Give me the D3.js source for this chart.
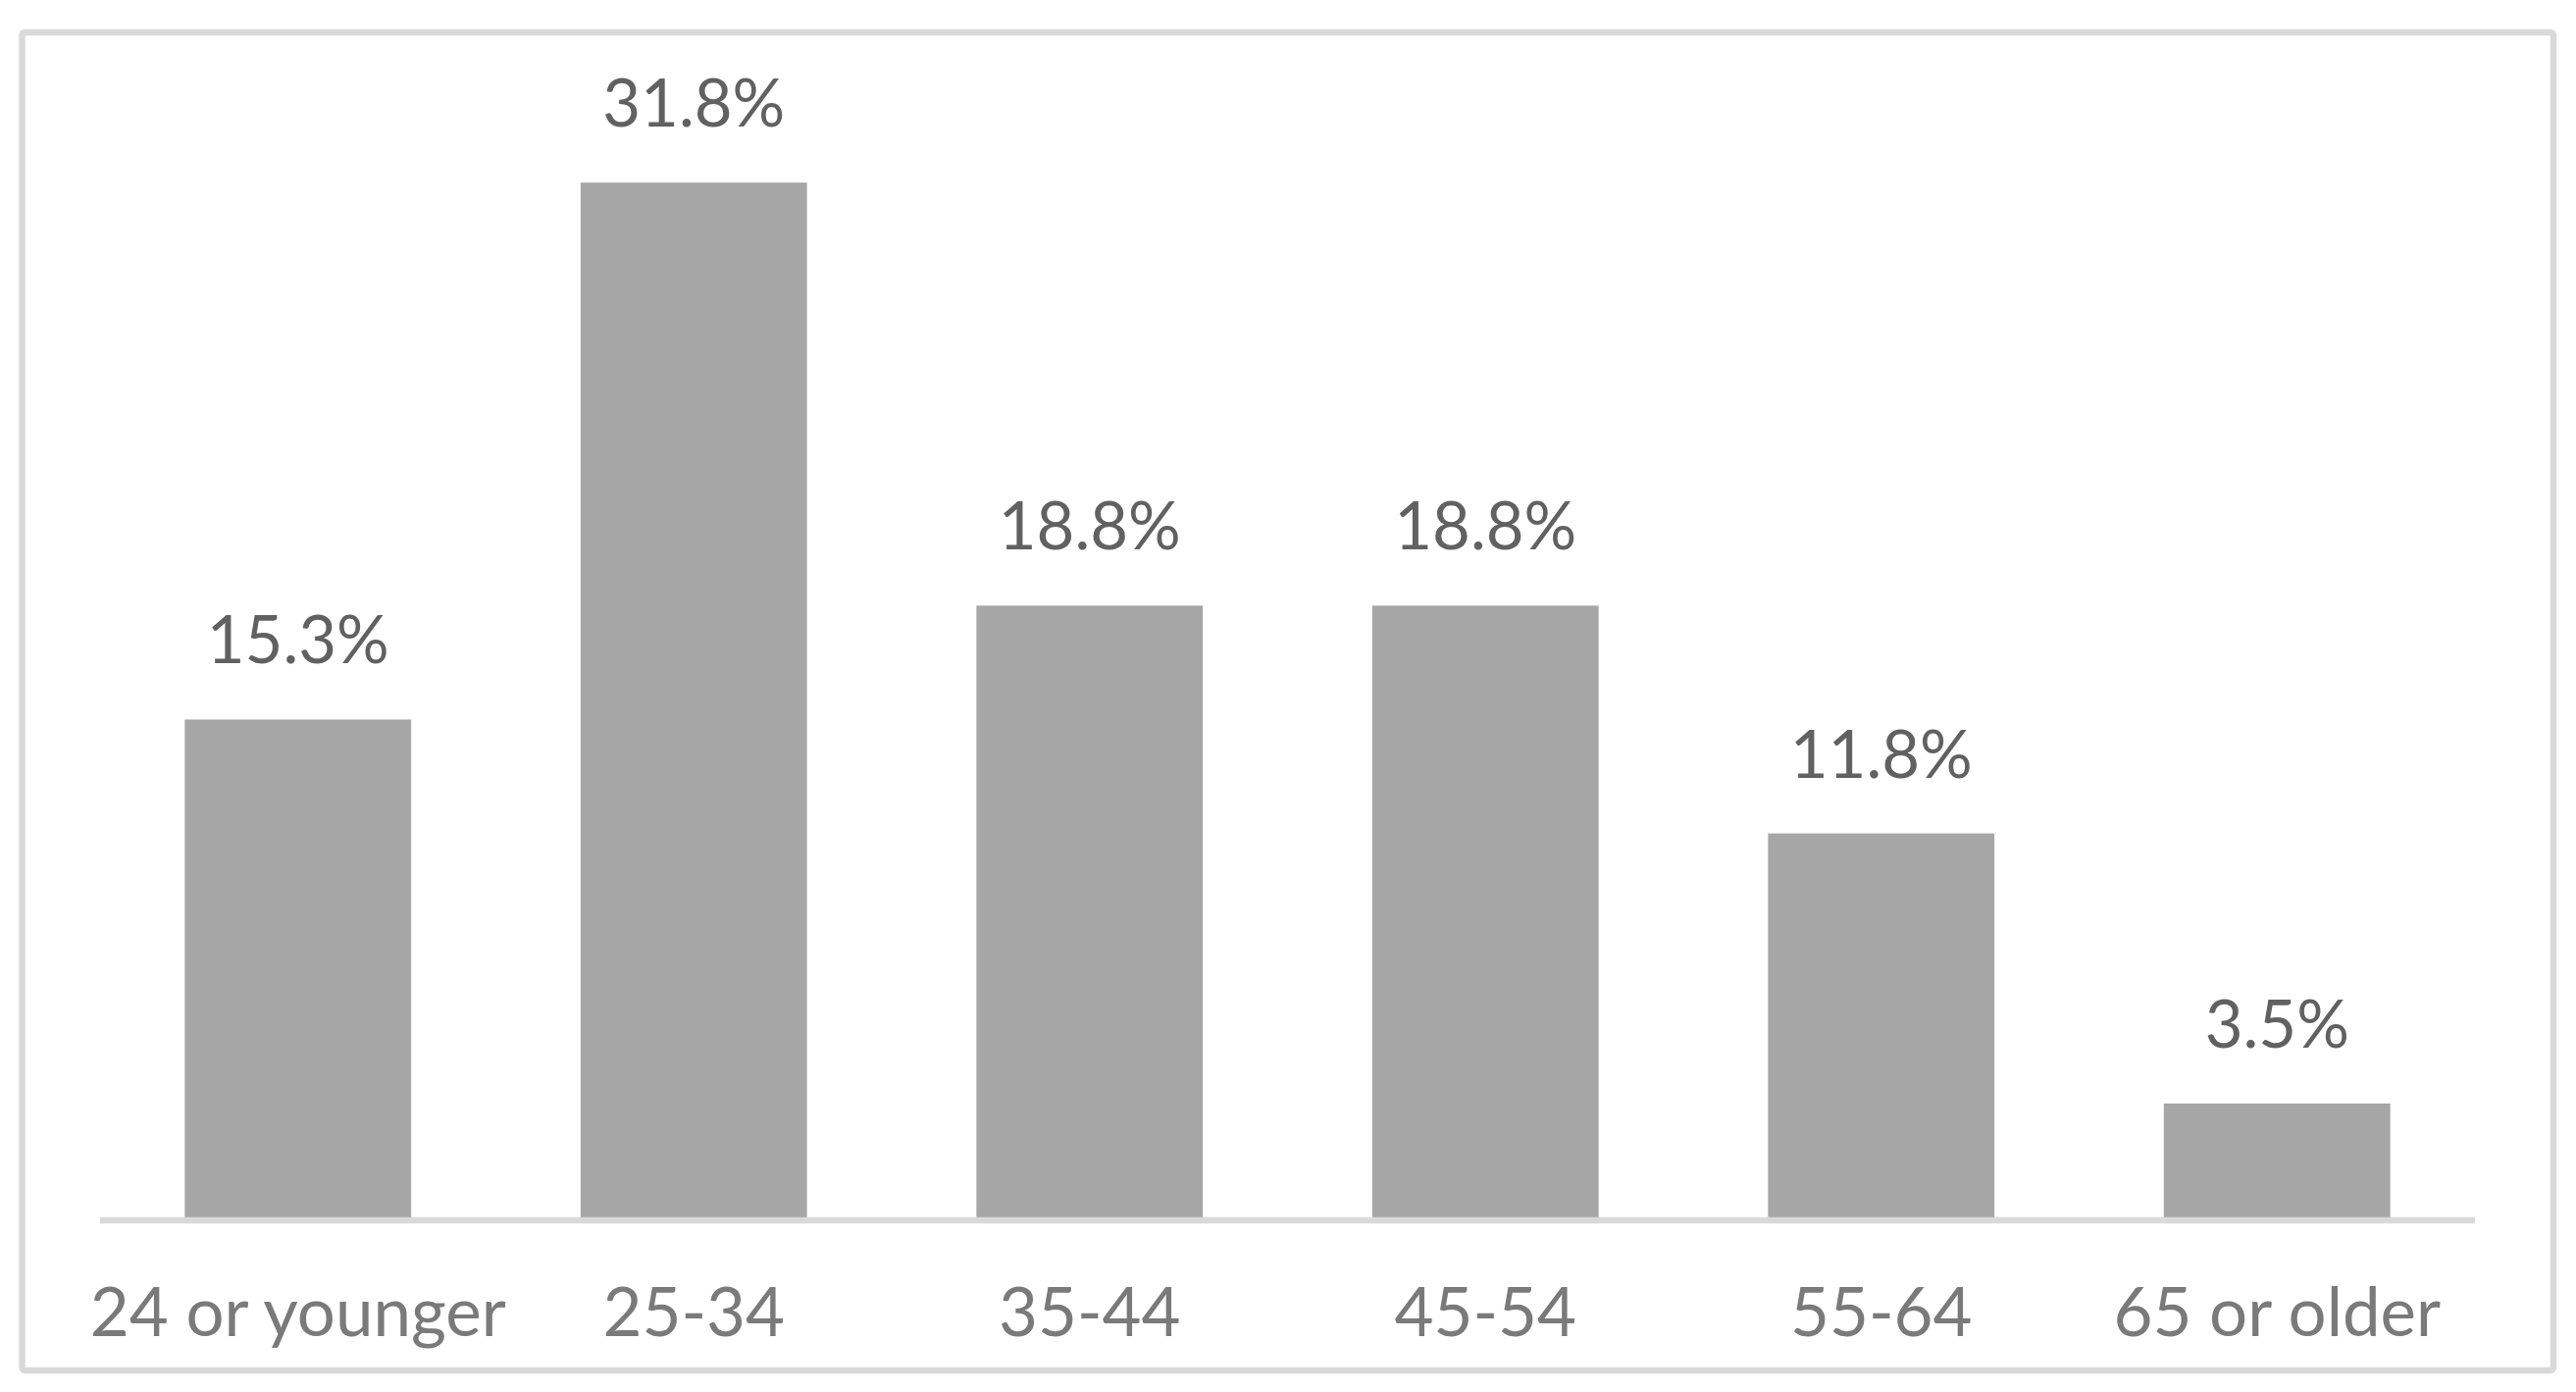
<!DOCTYPE html>
<html>
<head>
<meta charset="utf-8">
<script src="https://cdn.jsdelivr.net/npm/d3@7"></script>
<style>
  body { margin: 0; background: #fff; }
  svg { display: block; }
</style>
</head>
<body>
<div id="chart"></div>
<script>
const categories = ["24 or younger", "25-34", "35-44", "45-54", "55-64", "65 or older"];
const values = [15.3, 31.8, 18.8, 18.8, 11.8, 3.5];

const W = 2626, H = 1419;
const plot = {left: 102, right: 2523, top: 80, bottom: 1241};

const svg = d3.select("#chart").append("svg")
    .attr("width", W).attr("height", H);

// outer frame
svg.append("rect")
    .attr("x", 22.5).attr("y", 33)
    .attr("width", 2603 - 22.5).attr("height", 1397 - 33)
    .attr("rx", 3)
    .attr("fill", "#fff")
    .attr("stroke", "#d9d9d9")
    .attr("stroke-width", 6.5);

const x = d3.scaleBand()
    .domain(categories)
    .range([plot.left, plot.right])
    .paddingInner(0.428)
    .paddingOuter(0.214);

const y = d3.scaleLinear().domain([0, 35]).range([plot.bottom, plot.top]);

svg.append("g")
    .selectAll("rect")
    .data(values)
    .enter()
    .append("rect")
    .attr("x", (d, i) => x(categories[i]))
    .attr("y", d => y(d))
    .attr("width", x.bandwidth())
    .attr("height", d => y(0) - y(d))
    .attr("fill", "#a6a6a6");

// baseline
svg.append("line")
    .attr("x1", plot.left).attr("x2", plot.right)
    .attr("y1", y(0) + 3).attr("y2", y(0) + 3)
    .attr("stroke", "#d9d9d9")
    .attr("stroke-width", 6.5);

// value labels
svg.append("g")
    .selectAll("text")
    .data(values)
    .enter()
    .append("text")
    .attr("x", (d, i) => x(categories[i]) + x.bandwidth() / 2)
    .attr("y", d => y(d) - 57)
    .attr("text-anchor", "middle")
    .style("font-family", "Lato, 'Open Sans', sans-serif")
    .style("font-size", "67px")
    .style("fill", "#616161")
    .text(d => d.toFixed(1) + "%");

// category labels
const xAxis = svg.append("g")
    .attr("transform", "translate(0," + plot.bottom + ")")
    .call(d3.axisBottom(x).tickSize(0).tickPadding(0));
xAxis.select(".domain").remove();
xAxis.selectAll("text")
    .attr("y", 121)
    .attr("dy", null)
    .style("font-family", "Lato, 'Open Sans', sans-serif")
    .style("font-size", "69px")
    .style("fill", "#7a7a7a");
</script>
</body>
</html>
